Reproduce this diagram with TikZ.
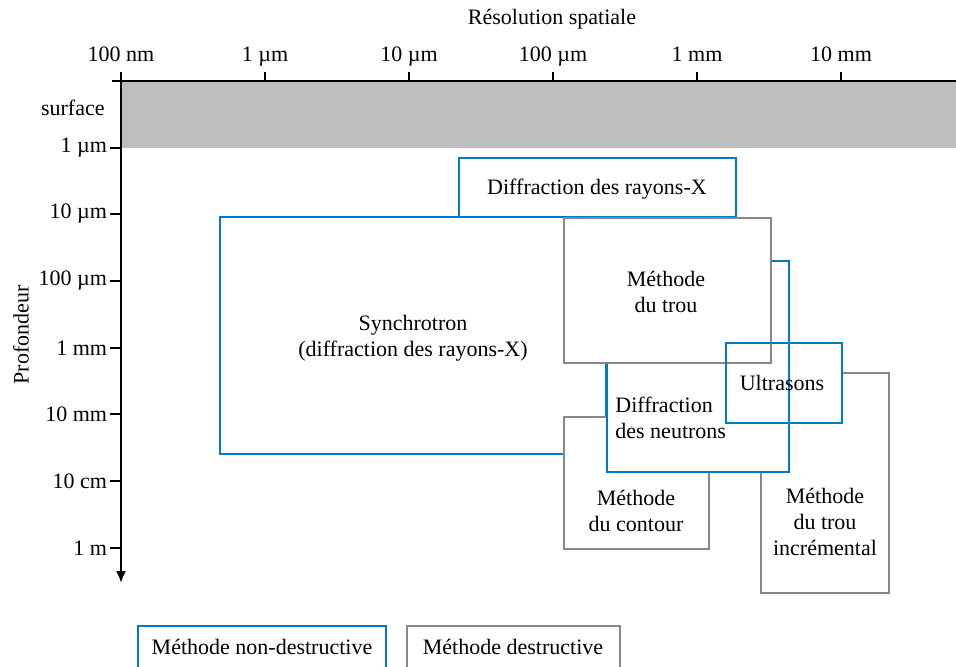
\documentclass[tikz,border=0pt]{standalone}
\usepackage{fontspec}
\setmainfont{Liberation Serif}
\usetikzlibrary{arrows.meta}
\definecolor{ndblue}{RGB}{0,122,194}
\definecolor{dgray}{RGB}{135,135,135}
\definecolor{surfgray}{RGB}{187,189,191}
\tikzset{
  lbl/.style={font=\fontsize{11}{13}\selectfont, inner sep=1pt},
  ndbox/.style={draw=ndblue, line width=1.3pt, fill=white},
  dbox/.style={draw=dgray, line width=1.3pt, fill=white},
  boxtxt/.style={lbl, align=center}
}

\begin{document}
\begin{tikzpicture}[x=0.5pt,y=-0.5pt]
\useasboundingbox (0,0) rectangle (956,666);
% surface band and axes
\fill[surfgray] (121,81) rectangle (956,148);
\draw[line width=1pt] (112,81) -- (956,81);
\draw[line width=1pt,-{Latex[length=6pt,width=5pt]}] (121,81) -- (121,583);
\node[lbl] (restitle) at (552,19) {Résolution spatiale};
\foreach \xx/\lab [count=\i] in {121/100 nm,265/1 µm,409/10 µm,553/100 µm,697/1 mm,841/10 mm}{
  \draw[line width=1pt] (\xx,81) -- (\xx,72);
  \node[lbl,anchor=base] (xt\i) at (\xx,61) {\lab};
}
\node[lbl,anchor=east] (surf) at (107,108) {surface};
\foreach \yy/\lab [count=\i] in {148/1 µm,214/10 µm,281/100 µm,348/1 mm,414/10 mm,481/10 cm,548/1 m}
  \draw[line width=1pt] (121,\yy) -- (110,\yy) node[lbl,left] (yt\i) {\lab};
\node[lbl,rotate=90] (deptitle) at (21,335) {Profondeur};
% boxes
\draw[ndbox] (220,217) rectangle (606,454);
\node[boxtxt] (synchro) at (413,338) {Synchrotron\\(diffraction des rayons-X)};
\draw[ndbox] (459,158) rectangle (736,217);
\node[boxtxt] (drx) at (597,189) {Diffraction des rayons-X};
\draw[dbox] (564,417) rectangle (709,549);
\node[boxtxt] (contour) at (636,511) {Méthode\\du contour};
\draw[dbox] (761,373) rectangle (889,593);
\node[boxtxt] (increm) at (825,522) {Méthode\\du trou\\incrémental};
\fill[white] (726,343) rectangle (842,423);
\draw[ndbox] (607,261) rectangle (789,472);
\node[lbl,align=left,anchor=north west] (neutrons) at (613,395) {Diffraction\\des neutrons};
\draw[dbox] (564,218) rectangle (771,363);
\node[boxtxt] (trou) at (666,292) {Méthode\\du trou};
\draw[ndbox,fill=none] (726,343) rectangle (842,423);
\node[boxtxt] (ultra) at (782,383) {Ultrasons};
% legend
\draw[ndbox] (138,626) rectangle (386,680);
\node[lbl] (legnd) at (262,647) {Méthode non-destructive};
\draw[dbox] (407,626) rectangle (620,680);
\node[lbl] (legd) at (513,647) {Méthode destructive};
\end{tikzpicture}
\end{document}
